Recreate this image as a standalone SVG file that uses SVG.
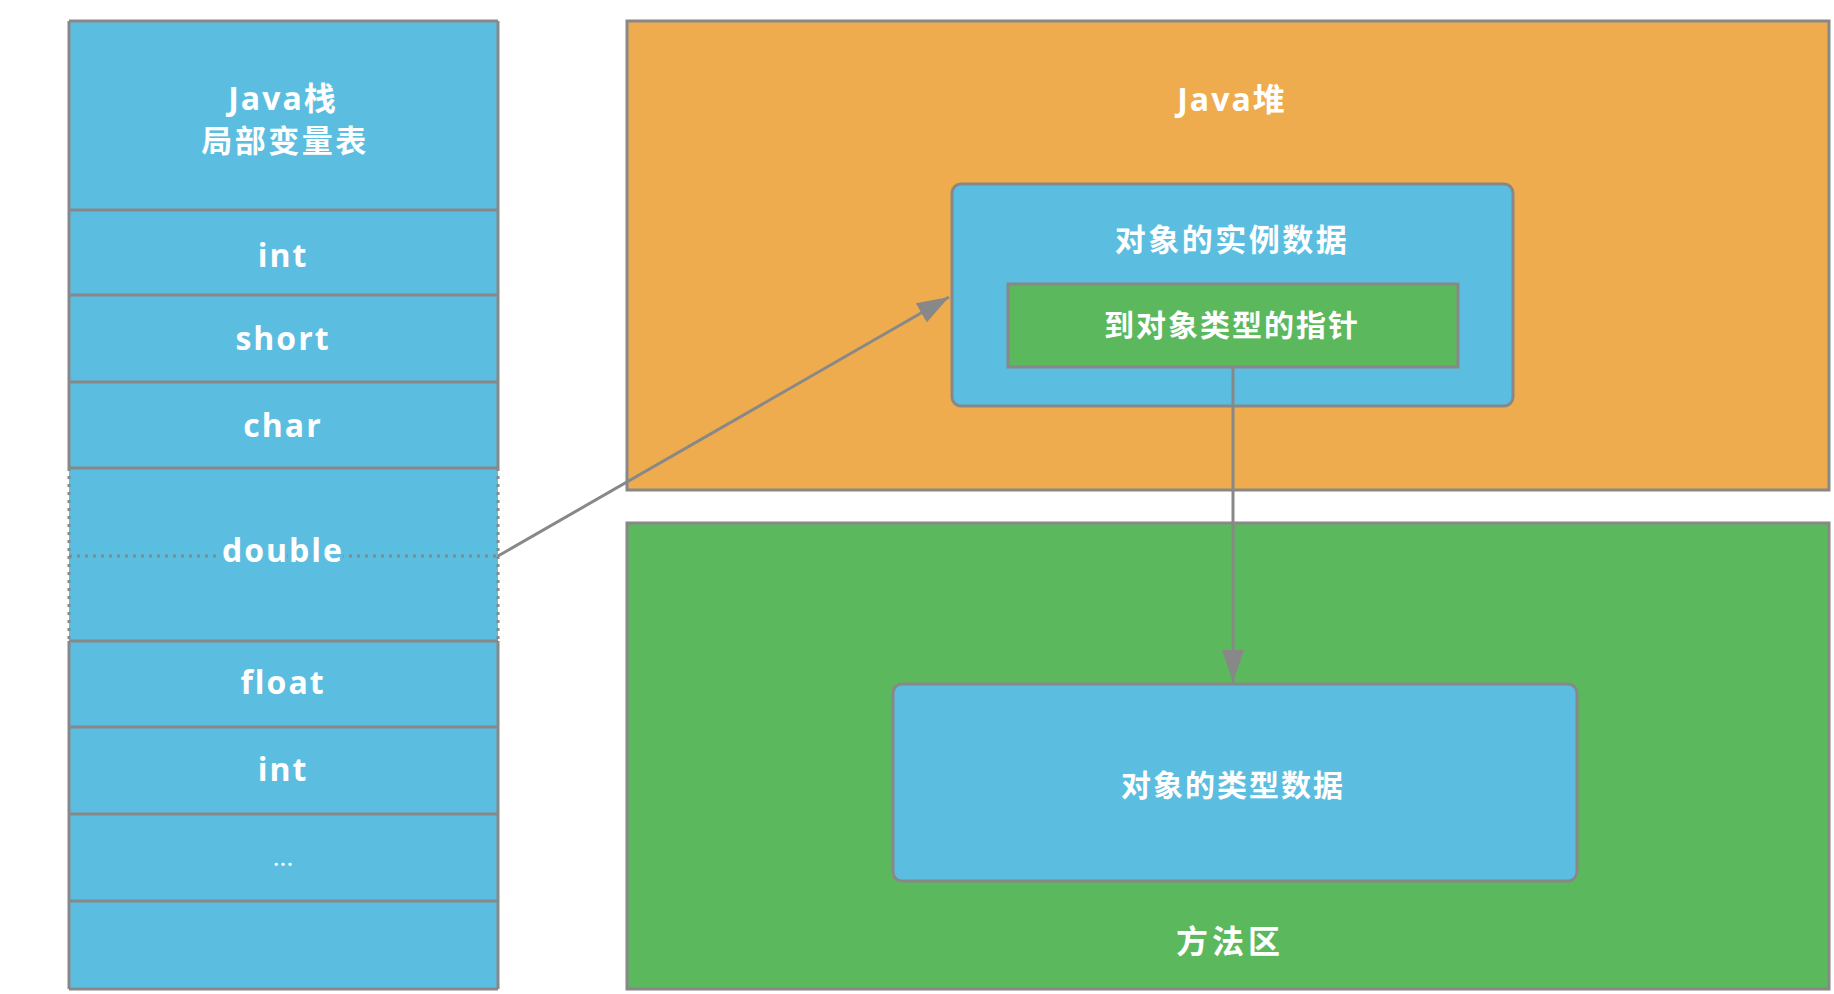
<svg xmlns="http://www.w3.org/2000/svg" width="1834" height="994" viewBox="0 0 1834 994">
<style>
  .blue { fill: #5bbee0; }
  .orange { fill: #eeac4e; }
  .green { fill: #5cb85c; }
  .edge { stroke: #888888; stroke-width: 3; fill: none; }
  .dot { stroke: #888888; stroke-width: 3; stroke-dasharray: 3 5; fill: none; }
  .t { font-family: "Open Sans", "Noto Sans CJK SC", sans-serif; font-weight: 700; fill: #ffffff; text-anchor: middle; }
  .lat { font-size: 32px; letter-spacing: 2px; }
  .cjk { font-size: 31px; letter-spacing: 2.5px; }
  .conn { stroke: #888888; stroke-width: 3; fill: none; }
</style>
<defs>
  <marker id="arrow" markerUnits="userSpaceOnUse" markerWidth="34" markerHeight="22" refX="32" refY="11" orient="auto">
    <path d="M0,0 L32,11 L0,22 z" fill="#888888"/>
  </marker>
</defs>
<rect width="1834" height="994" fill="#ffffff"/>

<g id="java-stack">
  <rect class="blue" x="69" y="21" width="429" height="968"/>
  <path class="edge" d="M69,21 H498 M69,210 H498 M69,295 H498 M69,382 H498 M69,468 H498 M69,641 H498 M69,727 H498 M69,814 H498 M69,901 H498 M69,989 H498"/>
  <path class="edge" d="M69,21 V468 M498,21 V468 M69,641 V989 M498,641 V989"/>
  <path class="dot" d="M69,468 V641 M498,468 V641 M69,556 H498"/>
  <text class="t lat" x="283" y="110">Java栈</text>
  <text class="t cjk" x="285" y="152">局部变量表</text>
  <text class="t lat" x="283" y="267">int</text>
  <text class="t lat" x="283" y="350">short</text>
  <text class="t lat" x="283" y="437">char</text>
  <text class="t lat" x="283" y="562" style="paint-order:stroke;stroke:#5bbee0;stroke-width:6px">double</text>
  <text class="t lat" x="283" y="694">float</text>
  <text class="t lat" x="283" y="781">int</text>
  <text class="t" x="283" y="866" style="font-size:26px;font-weight:400">...</text>
</g>

<g id="java-heap">
  <rect class="orange" x="627" y="21" width="1202" height="469"/>
  <rect class="edge" x="627" y="21" width="1202" height="469"/>
  <text class="t lat" x="1232" y="111">Java堆</text>
</g>

<g id="instance-data">
  <rect class="blue" x="952" y="184" width="561" height="222" rx="9"/>
  <rect class="edge" x="952" y="184" width="561" height="222" rx="9"/>
  <text class="t cjk" x="1232" y="251">对象的实例数据</text>
</g>

<g id="type-pointer">
  <rect class="green" x="1008" y="284" width="450" height="83"/>
  <rect class="edge" x="1008" y="284" width="450" height="83"/>
  <text class="t" x="1232" y="336" style="font-size:30px;letter-spacing:2px">到对象类型的指针</text>
</g>

<g id="method-area">
  <rect class="green" x="627" y="523" width="1202" height="466"/>
  <rect class="edge" x="627" y="523" width="1202" height="466"/>
  <text class="t" x="1230" y="953" style="font-size:32px;letter-spacing:4px">方法区</text>
</g>

<g id="type-data">
  <rect class="blue" x="893" y="684" width="684" height="197" rx="9"/>
  <rect class="edge" x="893" y="684" width="684" height="197" rx="9"/>
  <text class="t" x="1233" y="796" style="font-size:30px;letter-spacing:2px">对象的类型数据</text>
</g>

<g id="connectors">
  <line class="conn" x1="498" y1="556" x2="949" y2="297" marker-end="url(#arrow)"/>
  <line class="conn" x1="1233" y1="367" x2="1233" y2="682" marker-end="url(#arrow)"/>
</g>
</svg>
